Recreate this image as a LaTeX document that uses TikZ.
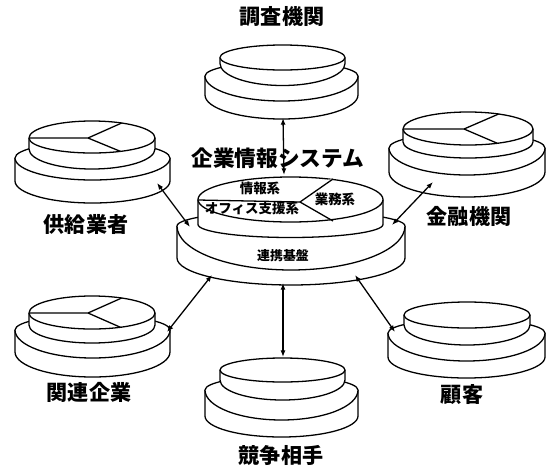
\documentclass[tikz,border=0pt]{standalone}
\usepackage{fontspec}
\newfontfamily\jp{Noto Sans CJK JP}
\usetikzlibrary{arrows.meta}

% Stacked disc: centre x, centre y of top face, x radius,
% back y radius, front y radius, side height, bottom y radius
\newcommand{\discpart}[7]{%
  \filldraw[disc] (#1-#3,#2)
    arc[start angle=180,end angle=360,x radius=#3,y radius=#4]
    -- ++(0,#6)
    arc[start angle=0,end angle=180,x radius=#3,y radius=#7] -- cycle;
  \draw[disc] (#1+#3,#2)
    arc[start angle=0,end angle=180,x radius=#3,y radius=#5];
}
% Three-sector split drawn on a top face
\newcommand{\piecut}[5]{%
  \draw[disc] (#1-#3,#2) -- (#1-4,#2) -- (#1+0.47*#3,#2-0.88*#4);
  \draw[disc] (#1-4,#2) -- (#1+0.45*#3,#2+0.89*#5);
}

\begin{document}
\begin{tikzpicture}[x=0.03cm,y=0.03cm,yscale=-1,
  disc/.style={line width=1.1pt,fill=white,line join=round},
  link/.style={line width=1.1pt,{Latex[length=2mm,width=1.5mm]}-{Latex[length=2mm,width=1.5mm]}},
  biglabel/.style={font=\jp\bfseries\fontsize{18}{20}\selectfont,inner sep=0pt},
  smalllabel/.style={font=\jp\bfseries\fontsize{11.5}{13}\selectfont,inner sep=0pt}]
\useasboundingbox (0,0) rectangle (552,471);

% research institutions (top)
\discpart{281.5}{76}{76.5}{14}{25}{19}{24}
\discpart{282.5}{57.5}{62.5}{12.5}{12.5}{6}{22}

% suppliers (upper left)
\discpart{92.5}{158}{77.5}{16}{22}{23}{22}
\discpart{92}{138}{63}{17}{15}{11}{20}
\piecut{92}{138}{63}{17}{15}

% financial institutions (upper right)
\discpart{467}{148}{78}{15}{27}{24}{25}
\discpart{468}{129}{65}{17}{16}{13}{16}
\piecut{468}{129}{65}{17}{16}

% affiliated companies (lower left)
\discpart{92.5}{330}{77.5}{15}{28}{22}{25}
\discpart{92}{313}{63}{17}{16}{12}{18}
\piecut{92}{313}{63}{17}{16}

% customers (lower right)
\discpart{466.5}{333}{78.5}{14}{28}{24}{21}
\discpart{467}{315}{63}{13}{13}{10}{20}

% competitors (bottom)
\discpart{281.5}{390}{76.5}{14}{30}{26}{21}
\discpart{282.5}{370}{62.5}{12}{12}{10}{20}

% enterprise information system (centre)
\discpart{291}{226}{114}{15}{44}{32}{27}
\discpart{290.5}{199.5}{92.5}{22.5}{22.5}{25}{13}
\draw[disc] (198,200) -- (300,202) -- (333,179);
\draw[disc] (300,202) -- (333,221);

% connector end points
\coordinate (rA) at (283,118);
\coordinate (cA) at (284,175);
\coordinate (sA) at (157,183);
\coordinate (cS) at (190,227);
\coordinate (fA) at (433,182);
\coordinate (cF) at (392,225);
\coordinate (aA) at (167,332);
\coordinate (cR) at (212,275);
\coordinate (uA) at (395,332);
\coordinate (cU) at (355,275);
\coordinate (cB) at (283,283);
\coordinate (kA) at (283,357);

\draw[link] (rA) -- (cA);
\draw[link] (sA) -- (cS);
\draw[link] (fA) -- (cF);
\draw[link] (aA) -- (cR);
\draw[link] (uA) -- (cU);
\draw[link] (cB) -- (kA);

% labels
\node[biglabel] (research) at (282,17) {調査機関};
\node[biglabel,font=\jp\bfseries\fontsize{18.5}{20}\selectfont] (eis) at (278,158) {企業情報システム};
\node[biglabel] (supplier) at (86,224) {供給業者};
\node[biglabel] (finance) at (469,216) {金融機関};
\node[biglabel] (affiliate) at (89,392) {関連企業};
\node[biglabel] (customer) at (462,395) {顧客};
\node[biglabel] (rival) at (281,455) {競争相手};
\node[smalllabel] (info) at (260,188) {情報系};
\node[smalllabel] (biz) at (335,199) {業務系};
\node[smalllabel] (office) at (252,208) {オフィス支援系};
\node[smalllabel,font=\jp\bfseries\fontsize{11}{13}\selectfont] (base) at (283,256) {連携基盤};
\end{tikzpicture}
\end{document}
